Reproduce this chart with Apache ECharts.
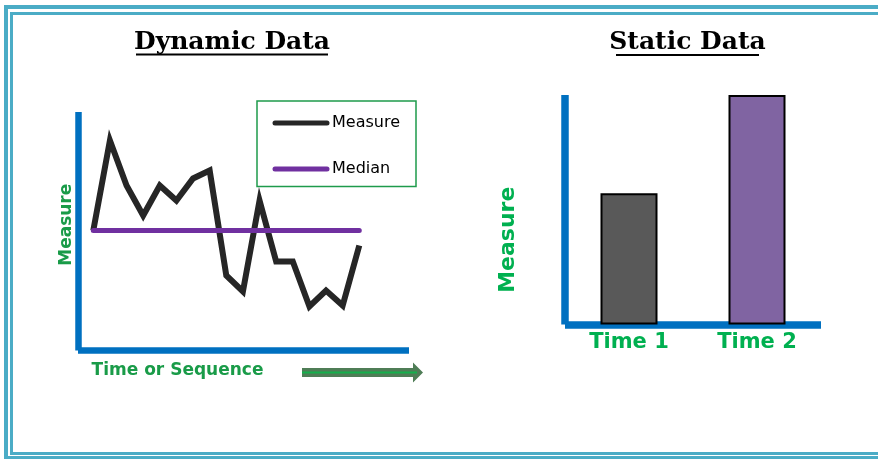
<!DOCTYPE html>
<html>
<head>
<meta charset="utf-8">
<script src="https://cdn.jsdelivr.net/npm/echarts@6/dist/echarts.min.js"></script>
<style>
  html, body { margin: 0; padding: 0; background: #ffffff; }
  #chart { width: 878px; height: 459px; }
</style>
</head>
<body>
<div id="chart"></div>
<script>
// Run chart: measure over time with its median
const measureValues = [12.0, 21.0, 16.5, 13.5, 16.5, 15.0, 17.2, 18.0, 7.5, 5.9, 15.0, 8.9, 8.9, 4.4, 6.0, 4.5, 10.5];
const medianValue = 12.0;

// Bar chart: two snapshots
const barCategories = ['Time 1', 'Time 2'];
const barValues = [57.2, 100];
const barColors = ['#595959', '#8064A2'];

const axisBlue = '#0070C0';
const darkGreen = '#199B48';
const brightGreen = '#00B050';
const frameTeal = '#4BACC6';

const measureData = measureValues.map((v, i) => [i, v]);
const medianData = measureValues.map((v, i) => [i, medianValue]);

const chart = echarts.init(document.getElementById('chart'), null, { renderer: 'canvas' });

chart.setOption({
  backgroundColor: '#ffffff',
  animation: false,
  legend: {
    show: true,
    orient: 'vertical',
    left: 272.5,
    top: 115,
    padding: 0,
    itemWidth: 52,
    itemHeight: 14,
    itemGap: 30,
    data: ['Measure', 'Median'],
    itemStyle: { opacity: 0 },
    lineStyle: { width: 5, cap: 'round' },
    textStyle: { fontFamily: 'DejaVu Sans', fontSize: 16, color: '#000000' },
    selectedMode: false
  },
  grid: [
    { left: 78, top: 112, width: 331, height: 238.5, containLabel: false },
    { left: 565, top: 95, width: 256, height: 229.5, containLabel: false }
  ],
  xAxis: [
    {
      gridIndex: 0, type: 'value', min: -0.92, max: 18.99,
      name: 'Time or Sequence', nameLocation: 'middle', nameGap: 12,
      nameTextStyle: { color: darkGreen, fontFamily: 'DejaVu Sans', fontWeight: 'bold', fontSize: 17, padding: [0, 132, 0, 0] },
      axisLine: { show: true, onZero: false, lineStyle: { color: axisBlue, width: 6.5, cap: 'butt' } },
      axisTick: { show: false }, axisLabel: { show: false }, splitLine: { show: false }
    },
    {
      gridIndex: 1, type: 'category', data: barCategories,
      axisLine: { show: true, lineStyle: { color: axisBlue, width: 7.5, cap: 'butt' } },
      axisTick: { show: false },
      axisLabel: { color: brightGreen, fontFamily: 'DejaVu Sans', fontWeight: 'bold', fontSize: 21, margin: 8 },
      splitLine: { show: false }
    }
  ],
  yAxis: [
    {
      gridIndex: 0, type: 'value', min: 0, max: 23.85,
      name: 'Measure', nameLocation: 'middle', nameRotate: 90, nameGap: 3,
      nameTextStyle: { color: darkGreen, fontFamily: 'DejaVu Sans', fontWeight: 'bold', fontSize: 17, padding: [0, 0, 0, 13] },
      axisLine: { show: true, onZero: false, lineStyle: { color: axisBlue, width: 6.5, cap: 'butt' } },
      axisTick: { show: false }, axisLabel: { show: false }, splitLine: { show: false }
    },
    {
      gridIndex: 1, type: 'value', min: 0, max: 100,
      name: 'Measure', nameLocation: 'middle', nameRotate: 90, nameGap: 45.5,
      nameTextStyle: { color: brightGreen, fontFamily: 'DejaVu Sans', fontWeight: 'bold', fontSize: 22, padding: [0, 60, 0, 0] },
      axisLine: { show: true, onZero: false, lineStyle: { color: axisBlue, width: 7.5, cap: 'butt' } },
      axisTick: { show: false }, axisLabel: { show: false }, splitLine: { show: false }
    }
  ],
  series: [
    {
      name: 'Measure', type: 'line', xAxisIndex: 0, yAxisIndex: 0,
      data: measureData, symbol: 'none', z: 3,
      lineStyle: { color: '#262626', width: 6, join: 'miter', cap: 'butt' },
      itemStyle: { color: '#262626' }
    },
    {
      name: 'Median', type: 'line', xAxisIndex: 0, yAxisIndex: 0,
      data: medianData, symbol: 'none', z: 4,
      lineStyle: { color: '#7030A0', width: 5, cap: 'round' },
      itemStyle: { color: '#7030A0' }
    },
    {
      name: 'Snapshot', type: 'bar', xAxisIndex: 1, yAxisIndex: 1,
      barWidth: 57,
      data: barValues.map((v, i) => ({ value: v, itemStyle: { color: barColors[i] } })),
      itemStyle: { borderColor: '#000000', borderWidth: 2 },
      z: 3
    }
  ],
  graphic: [
    // double frame, open on the right edge
    { type: 'rect', silent: true, shape: { x: 6, y: 7, width: 900, height: 451 },
      style: { fill: 'none', stroke: frameTeal, lineWidth: 4 } },
    { type: 'rect', silent: true, shape: { x: 11.5, y: 13.5, width: 900, height: 440 },
      style: { fill: 'none', stroke: frameTeal, lineWidth: 3 } },
    // panel titles with underline
    { type: 'text', silent: true, x: 232, y: 42.5,
      style: { text: 'Dynamic Data', fill: '#000000', font: 'bold 25px "DejaVu Serif"', align: 'center', verticalAlign: 'middle' } },
    { type: 'line', silent: true, shape: { x1: 136, y1: 54.5, x2: 328, y2: 54.5 },
      style: { stroke: '#000000', lineWidth: 2 } },
    { type: 'text', silent: true, x: 687.5, y: 42.5,
      style: { text: 'Static Data', fill: '#000000', font: 'bold 25px "DejaVu Serif"', align: 'center', verticalAlign: 'middle' } },
    { type: 'line', silent: true, shape: { x1: 616, y1: 55, x2: 759, y2: 55 },
      style: { stroke: '#000000', lineWidth: 2 } },
    // legend frame
    { type: 'rect', silent: true, shape: { x: 257, y: 101, width: 159, height: 85.5 },
      style: { fill: 'none', stroke: '#1E9B4B', lineWidth: 1.5 } },
    // direction arrow under the time axis
    { type: 'polygon', silent: true,
      shape: { points: [[302, 368], [413, 368], [413, 362.5], [423, 372.5], [413, 382.5], [413, 377], [302, 377]] },
      style: { fill: '#4F7D56' } },
    { type: 'line', silent: true, shape: { x1: 302, y1: 372.5, x2: 417, y2: 372.5 },
      style: { stroke: '#14B04C', lineWidth: 2 } }
  ]
});
</script>
</body>
</html>
